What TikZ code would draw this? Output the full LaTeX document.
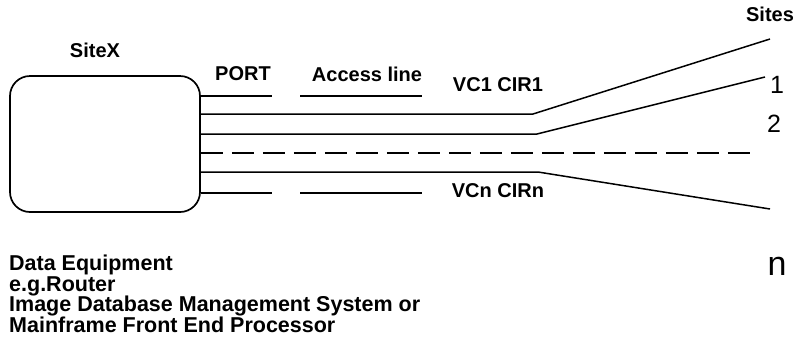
\documentclass[tikz,border=0pt]{standalone}
\usepackage{fontspec}
\setmainfont{Liberation Sans}
\begin{document}
\begin{tikzpicture}[x=1pt,y=-1pt,
  lbl/.style={font=\bfseries\fontsize{20}{22}\selectfont, inner sep=0pt},
  big/.style={font=\fontsize{25}{28}\selectfont, inner sep=0pt},
  wire/.style={line width=1.5pt, line join=round},
  dashwire/.style={line width=1.5pt, dash pattern=on 22pt off 9pt}]
\useasboundingbox (0,0) rectangle (795,354);
% equipment box
\node[draw, line width=1.7pt, rounded corners=20pt, minimum width=190pt, minimum height=136pt, inner sep=0pt] (box) at (105,144) {};
% labels
\node[lbl] (sitex) at (95,50) {SiteX};
\node[lbl] (port) at (243,74) {PORT};
\node[lbl] (access) at (367,74) {Access line};
\node[lbl] (vc1) at (498,85) {VC1 CIR1};
\node[lbl] (vcn) at (498,191) {VCn CIRn};
\node[lbl] (sites) at (770,14) {Sites};
\node[big] (one) at (777,85) {1};
\node[big] (two) at (774,124) {2};
\node[big, font=\fontsize{34}{36}\selectfont] (nn) at (777,266) {n};
\node[font=\bfseries\fontsize{21.5}{20.5}\selectfont, align=left, inner sep=0pt, anchor=base west] (equip) at (9,332)
  {Data Equipment\\e.g.Router\\Image Database Management System or\\Mainframe Front End Processor};
% coordinates
\coordinate (a1) at (box.east |- 0,96);   \coordinate (a2) at (272,96);
\coordinate (a3) at (300,96);             \coordinate (a4) at (422,96);
\coordinate (b1) at (box.east |- 0,114);  \coordinate (b2) at (533,114); \coordinate (b3) at (770,39);
\coordinate (c1) at (box.east |- 0,134);  \coordinate (c2) at (537,134); \coordinate (c3) at (765,77);
\coordinate (d1) at (box.east |- 0,153);  \coordinate (d2) at (758,153);
\coordinate (e1) at (box.east |- 0,172);  \coordinate (e2) at (538,172); \coordinate (e3) at (770,209);
\coordinate (f1) at (box.east |- 0,193);  \coordinate (f2) at (272,193);
\coordinate (f3) at (300,193);            \coordinate (f4) at (422,193);
% wires
\draw[wire] (a1) -- (a2);
\draw[wire] (a3) -- (a4);
\draw[wire] (b1) -- (b2) -- (b3);
\draw[wire] (c1) -- (c2) -- (c3);
\draw[dashwire] (d1) -- (d2);
\draw[wire] (e1) -- (e2) -- (e3);
\draw[wire] (f1) -- (f2);
\draw[wire] (f3) -- (f4);
\end{tikzpicture}
\end{document}
